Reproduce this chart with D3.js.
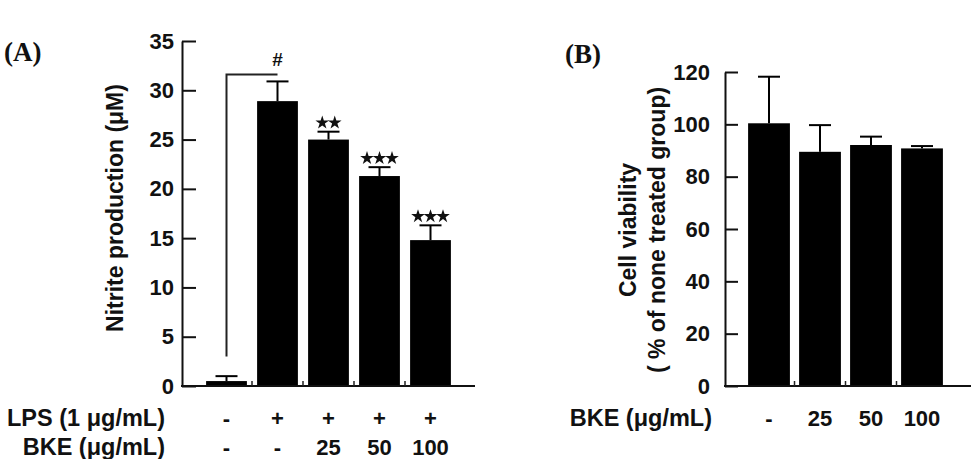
<!DOCTYPE html>
<html>
<head>
<meta charset="utf-8">
<script src="https://cdn.jsdelivr.net/npm/d3@7"></script>
<style>
  body { margin: 0; background: #fff; }
  svg text { font-family: "Liberation Sans", Arial, sans-serif; font-weight: bold; fill: #111; }
  .panel { font-family: "Liberation Serif", "Times New Roman", serif !important; }
</style>
</head>
<body>
<svg id="chart" width="971" height="459"></svg>
<script>
// Panel A: nitrite production
const groupsA = ["ctrl", "lps", "bke25", "bke50", "bke100"];
const lpsRowA = ["-", "+", "+", "+", "+"];
const bkeRowA = ["-", "-", "25", "50", "100"];
const nitriteMean = [0.5, 28.9, 25.0, 21.3, 14.8];
const nitriteErr = [0.5, 2.0, 0.8, 0.9, 1.5];
const starCountA = [0, 0, 2, 3, 3];
const yTicksA = [0, 5, 10, 15, 20, 25, 30, 35];

// Panel B: cell viability
const groupsB = ["ctrl", "bke25", "bke50", "bke100"];
const bkeRowB = ["-", "25", "50", "100"];
const viabilityMean = [100.4, 89.5, 92.1, 90.8];
const viabilityErr = [17.8, 10.2, 3.2, 0.9];
const yTicksB = [0, 20, 40, 60, 80, 100, 120];

const svg = d3.select("#chart");

// draws one bar panel; opts holds layout bits
function drawPanel(o) {
    const g = svg.append("g");
    const x = d3.scaleBand().domain(o.groups).range(o.xRange)
        .paddingInner(o.padIn).paddingOuter(o.padOut);
    const y = d3.scaleLinear().domain(o.yDomain).range(o.yRange);

    // bars
    g.selectAll("rect.bar").data(o.groups).join("rect")
        .attr("class", "bar")
        .attr("x", d => x(d))
        .attr("width", x.bandwidth())
        .attr("y", (d, i) => y(o.mean[i]))
        .attr("height", (d, i) => y(0) - y(o.mean[i]))
        .attr("fill", "#000");

    // error bars (upper only)
    const eb = g.selectAll("g.err").data(o.groups).join("g").attr("class", "err")
        .attr("stroke", "#000").attr("stroke-width", 2);
    eb.append("line")
        .attr("x1", d => x(d) + x.bandwidth() / 2)
        .attr("x2", d => x(d) + x.bandwidth() / 2)
        .attr("y1", (d, i) => y(o.mean[i]))
        .attr("y2", (d, i) => y(o.mean[i] + o.err[i]));
    eb.append("line")
        .attr("x1", d => x(d) + x.bandwidth() / 2 - 11)
        .attr("x2", d => x(d) + x.bandwidth() / 2 + 11)
        .attr("y1", (d, i) => y(o.mean[i] + o.err[i]))
        .attr("y2", (d, i) => y(o.mean[i] + o.err[i]));

    // y axis
    const yAxis = d3.axisLeft(y).tickValues(o.yTicks)
        .tickSizeInner(-o.tickLen).tickSizeOuter(0).tickPadding(o.labelPad);
    const gy = g.append("g").attr("transform", `translate(${o.axisX},0)`).call(yAxis);
    gy.select(".domain").attr("stroke", "#111").attr("stroke-width", 2);
    gy.selectAll(".tick line").attr("stroke", "#111").attr("stroke-width", 2);
    gy.selectAll(".tick text").style("font-size", "22px").attr("fill", "#111");

    // x axis line + small ticks between bars
    g.append("line")
        .attr("x1", o.axisX - 1).attr("x2", o.axisEnd)
        .attr("y1", y(0)).attr("y2", y(0))
        .attr("stroke", "#111").attr("stroke-width", 2);
    g.selectAll("line.xt").data(o.groups.slice(1)).join("line")
        .attr("class", "xt")
        .attr("x1", d => x(d) - x.step() * x.paddingInner() / 2)
        .attr("x2", d => x(d) - x.step() * x.paddingInner() / 2)
        .attr("y1", y(0)).attr("y2", y(0) - 5)
        .attr("stroke", "#222").attr("stroke-width", 1.5);

    // category label rows
    o.rows.forEach((row, r) => {
        g.selectAll(null).data(row.values).join("text")
            .attr("x", (d, i) => x(o.groups[i]) + x.bandwidth() / 2)
            .attr("y", row.y)
            .attr("text-anchor", "middle")
            .attr("dominant-baseline", "central")
            .style("font-size", "22px")
            .text(d => d);
        g.append("text")
            .attr("x", o.rowLabelX).attr("y", row.y)
            .attr("text-anchor", "end")
            .attr("dominant-baseline", "central")
            .style("font-size", "23.5px")
            .text(row.label);
    });

    // rotated y title(s)
    o.titles.forEach(t => {
        g.append("text")
            .attr("transform", `translate(${t.x},${t.y}) rotate(-90)`)
            .attr("text-anchor", "middle")
            .attr("dominant-baseline", "central")
            .style("font-size", "23px")
            .text(t.text);
    });

    // panel letter
    g.append("text").attr("class", "panel")
        .attr("x", o.panelX).attr("y", o.panelY)
        .style("font-size", "27px")
        .text(o.panel);

    return { g, x, y };
}

const A = drawPanel({
    groups: groupsA, mean: nitriteMean, err: nitriteErr,
    xRange: [201, 456], padIn: 0.2, padOut: 0.1,
    yDomain: [0, 35], yRange: [386, 41], yTicks: yTicksA,
    axisX: 182, axisEnd: 475, tickLen: 14, labelPad: 8,
    rows: [
        { label: "LPS (1 \u03bcg/mL)", values: lpsRowA, y: 418 },
        { label: "BKE (\u03bcg/mL)", values: bkeRowA, y: 447 }
    ],
    rowLabelX: 165,
    titles: [{ text: "Nitrite production (\u03bcM)", x: 115, y: 208 }],
    panel: "(A)", panelX: 4, panelY: 61
});

const B = drawPanel({
    groups: groupsB, mean: viabilityMean, err: viabilityErr,
    xRange: [743, 948], padIn: 0.18, padOut: 0.1,
    yDomain: [0, 120], yRange: [386, 72], yTicks: yTicksB,
    axisX: 725, axisEnd: 971, tickLen: 13, labelPad: 15,
    rows: [{ label: "BKE (\u03bcg/mL)", values: bkeRowB, y: 418 }],
    rowLabelX: 712,
    titles: [
        { text: "Cell viability", x: 628, y: 230 },
        { text: "( % of none treated group)", x: 657, y: 230 }
    ],
    panel: "(B)", panelX: 565, panelY: 63
});

// significance bracket LPS vs control, with '#'
const cx = d => A.x(d) + A.x.bandwidth() / 2;
const bracketTop = 31.6, bracketBottom = 3.0;
A.g.append("path")
    .attr("d", `M${cx(groupsA[0])},${A.y(bracketBottom)}V${A.y(bracketTop)}H${cx(groupsA[1])}`)
    .attr("fill", "none").attr("stroke", "#222").attr("stroke-width", 2);
A.g.append("text")
    .attr("x", cx(groupsA[1])).attr("y", A.y(bracketTop) - 15)
    .attr("text-anchor", "middle").attr("dominant-baseline", "central")
    .style("font-size", "19px")
    .text("#");

// stars above bars
const star = d3.symbol(d3.symbolStar).size(58);
groupsA.forEach((grp, i) => {
    const n = starCountA[i];
    for (let k = 0; k < n; k++) {
        const sx = cx(grp) + (k - (n - 1) / 2) * 12.5;
        const sy = A.y(nitriteMean[i] + nitriteErr[i]) - 9;
        A.g.append("path")
            .attr("d", star())
            .attr("transform", `translate(${sx},${sy})`)
            .attr("fill", "#111");
    }
});
</script>
</body>
</html>
